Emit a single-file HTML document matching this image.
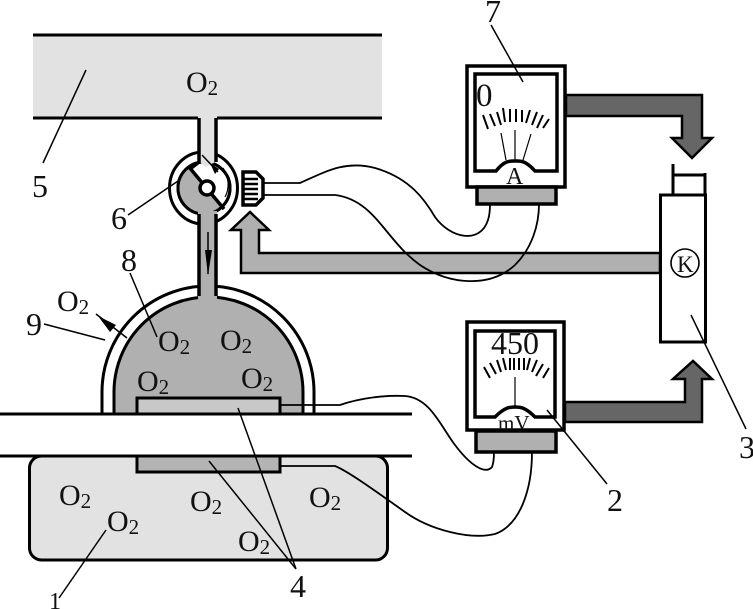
<!DOCTYPE html>
<html><head><meta charset="utf-8"><style>
html,body{margin:0;padding:0;background:#fff;width:753px;height:609px;overflow:hidden}
svg{display:block}
text{font-family:"Liberation Serif",serif;fill:#111}
.o{font-size:30px}.s{font-size:21px}.n{font-size:32px}
</style></head><body>
<svg width="753" height="609" viewBox="0 0 753 609" fill="none" stroke="#000" stroke-linecap="butt">
<!-- top chamber -->
<rect x="33" y="35" width="349" height="83" fill="#e2e2e2" stroke="none"/>
<path d="M33 35H382M33 118H199M216 118H382" stroke-width="3"/>
<!-- dome -->
<path d="M102 414V392A106 106 0 0 1 314 392V414Z" fill="#fff" stroke-width="3"/>
<path d="M114 414V392A94.500 95 0 0 1 303 392V414Z" fill="#b0b0b0" stroke-width="3"/>
<!-- valve -->
<ellipse cx="203.500" cy="188" rx="34" ry="36" fill="#fff" stroke-width="3"/>
<circle cx="204" cy="188" r="26" fill="#fff" stroke-width="3"/>
<path d="M188 167L222 207A26 26 0 0 1 188 167Z" fill="#b0b0b0" stroke="none"/>
<circle cx="204" cy="188" r="26" stroke-width="3"/>
<!-- tube -->
<path d="M198 116H217V161L206 167L198 161Z" fill="#e2e2e2" stroke="none"/>
<rect x="198" y="211" width="19" height="88" fill="#b0b0b0" stroke="none"/>
<path d="M199 118V162L190 169M216 118V162M199 214V296M216 214V296" stroke-width="3.500"/>
<path d="M189 167L224 209" stroke-width="3.500"/>
<circle cx="207" cy="188" r="7" fill="#fff" stroke-width="3.500"/>
<path d="M202 155L218 172" stroke-width="1.500"/>
<path d="M210 163L219 169L215 174Z" fill="#000" stroke="none"/>
<path d="M223 168C230 178 229 190 225 197" stroke-width="1.200"/>
<path d="M208 232V274" stroke-width="1.500"/>
<path d="M205 250H212L208 275Z" fill="#000" stroke="none"/>
<!-- connector -->
<path d="M243 172H256L263 179V198L256 205H243Z" fill="#fff" stroke-width="3.500"/>
<path d="M243 179H258M243 184H258M243 189H258M243 194H258M243 199H258" stroke-width="2.500"/>
<!-- gray arrow -->
<path d="M660 253H259V230H269L250 212L231 230H241V273H660Z" fill="#b0b0b0" stroke-width="2.500"/>
<!-- walls -->
<rect x="29.500" y="456" width="358" height="104" rx="12" fill="#e2e2e2" stroke-width="3"/>
<rect x="0" y="414" width="412" height="42" fill="#fff" stroke="none"/>
<path d="M0 414H412M0 456H412" stroke-width="3"/>
<rect x="137" y="398" width="143" height="16" fill="#c8c8c8" stroke-width="3"/>
<rect x="137" y="456" width="143" height="16" fill="#b4b4b4" stroke-width="3"/>
<!-- meter A -->
<rect x="467" y="66" width="98" height="121" fill="#fff" stroke-width="3.500"/>
<path d="M475 74H557V171H535C525 160 520 161 516 161C510 161 505 160 496 171H475Z" stroke-width="3.500"/>
<rect x="477" y="187" width="79" height="17" fill="#b0b0b0" stroke-width="3.500"/>
<path d="M483 115L488 129M490 114L495 126M497 112L501 125M503 108L505 122M510 109V122M516 109V122M522 110V122M530 110L526 123M537 112L532 125M543 115L537 128M549 119L543 128" stroke-width="2"/>
<path d="M501 133L506 160M515 130V160M531 134L523 160" stroke-width="1.200"/>
<!-- meter mV -->
<rect x="467" y="322" width="97" height="108" fill="#fff" stroke-width="3.500"/>
<path d="M475 331H555V417H535C525 407 520 407 515 407C510 407 505 407 495 417H475Z" stroke-width="3.500"/>
<rect x="476" y="431" width="80" height="21" fill="#b0b0b0" stroke-width="3.500"/>
<path d="M484 367L490 378M490 363L496 374M497 360L501 372M503 358L506 370M510 358V370M514 358V370M519 358V370M524 358V370M530 358L527 370M537 360L532 372M543 364L536 376M549 368L543 378" stroke-width="2"/>
<path d="M515 377V407" stroke-width="1.200"/>
<!-- dark arrows -->
<path d="M566 95H702V138H712L692 158L672 138H682V116H566Z" fill="#666" stroke-width="2.500"/>
<path d="M565 402H685V379H673L693 361L712 379H702V422H565Z" fill="#666" stroke-width="2.500"/>
<!-- controller -->
<rect x="660.500" y="195" width="45" height="147" fill="#fff" stroke-width="3"/>
<path d="M673 164V195M673 175H705M705 173V195" stroke-width="3"/>
<circle cx="685" cy="263" r="14" fill="#fff" stroke-width="1.600"/>
<!-- wires -->
<g stroke-width="1.800">
<path d="M263 183H300C325 172 345 160 375 168C410 178 425 200 435 217C450 238 480 245 488 220C490 214 490 208 490 204"/>
<path d="M263 195H335C375 200 385 240 420 265C450 285 490 288 515 265C532 248 539 225 539 204"/>
<path d="M280 405H340C360 398 385 395 405 396C430 398 440 425 455 445C470 465 485 475 492 467C494 462 494 456 494 452"/>
<path d="M280 466H335C350 472 385 498 405 512C430 530 470 540 495 534C520 525 532 490 532 452"/>
</g>
<!-- leaders -->
<g stroke-width="1.500">
<path d="M86 70L43 163"/>
<path d="M128 215L178 181"/>
<path d="M130 273L157 337"/>
<path d="M44 324L105 340"/>
<path d="M96 314L127 338"/>
<path d="M238 408L296 569M209 461L296 569"/>
<path d="M106 530L59 598"/>
<path d="M491 25L523 82"/>
<path d="M547 410L607 484"/>
<path d="M691 315L746 429"/>
</g>
<path d="M98 316L116 325L110 332Z" fill="#000" stroke="none"/>
<!-- text -->
<g stroke="none">
<text x="186" y="92" class="o">O<tspan class="s" dy="3">2</tspan></text>
<text x="57" y="311" class="o">O<tspan class="s" dy="3">2</tspan></text>
<text x="158" y="351" class="o">O<tspan class="s" dy="3">2</tspan></text>
<text x="220" y="350" class="o">O<tspan class="s" dy="3">2</tspan></text>
<text x="137" y="391" class="o">O<tspan class="s" dy="3">2</tspan></text>
<text x="241" y="388" class="o">O<tspan class="s" dy="3">2</tspan></text>
<text x="59" y="505" class="o">O<tspan class="s" dy="3">2</tspan></text>
<text x="107" y="531" class="o">O<tspan class="s" dy="3">2</tspan></text>
<text x="190" y="511" class="o">O<tspan class="s" dy="3">2</tspan></text>
<text x="309" y="507" class="o">O<tspan class="s" dy="3">2</tspan></text>
<text x="238" y="551" class="o">O<tspan class="s" dy="3">2</tspan></text>
<text x="32" y="197" class="n">5</text>
<text x="111" y="229" class="n">6</text>
<text x="121" y="271" class="n">8</text>
<text x="26" y="335" class="n">9</text>
<text x="485" y="22" class="n">7</text>
<text x="607" y="511" class="n">2</text>
<text x="739" y="458" class="n">3</text>
<text x="290" y="597" class="n">4</text>
<text x="49" y="609" class="n" style="font-size:24px">1</text>
<text x="476" y="106" style="font-size:33px">0</text>
<text x="491" y="354" style="font-size:32px">450</text>
<text x="506" y="184" style="font-size:24px">A</text>
<text x="498" y="430" style="font-size:21px">mV</text>
<text x="677" y="272" style="font-size:23px">K</text>
</g>
</svg>
</body></html>
